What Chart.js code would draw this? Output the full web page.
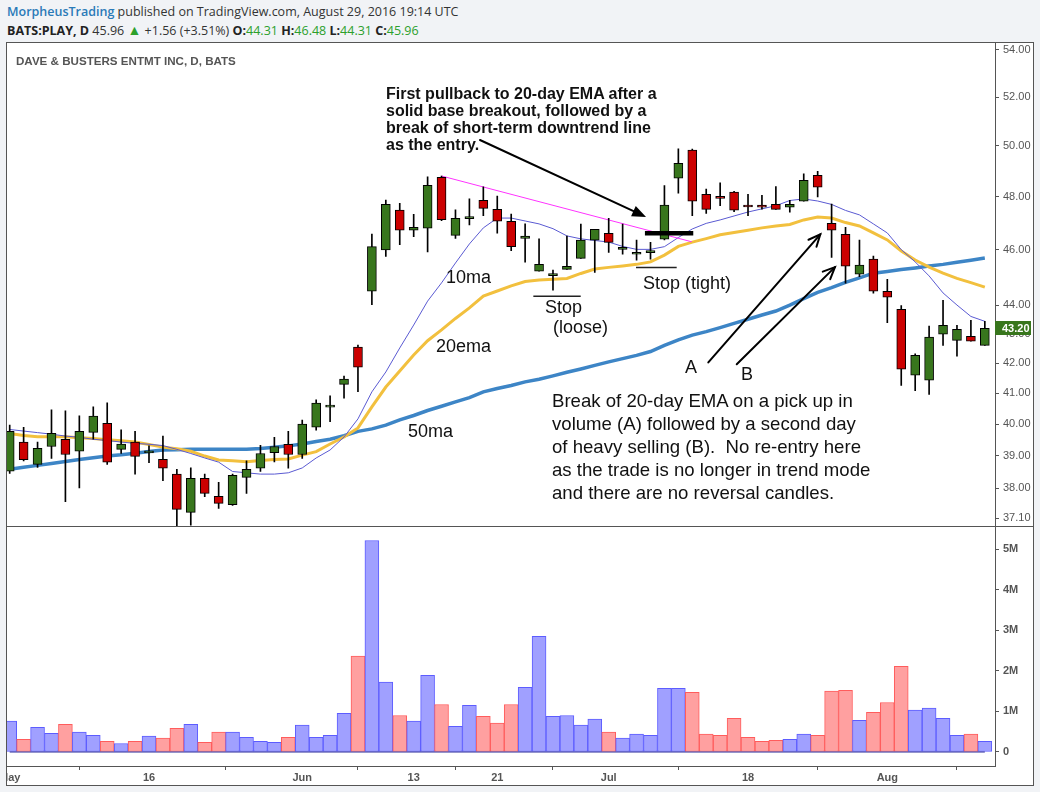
<!DOCTYPE html>
<html><head><meta charset="utf-8">
<script src="https://cdn.jsdelivr.net/npm/chart.js@4.4.0/dist/chart.umd.min.js"></script>
<style>
html,body{margin:0;padding:0;background:#f1f3f6;width:1040px;height:792px;overflow:hidden;}
#hdr{position:absolute;left:7px;top:3px;font-family:"Open Sans",Arial,sans-serif;font-size:12.5px;line-height:18px;color:#333;white-space:nowrap}
#hdr .u{color:#2a7ab8;font-weight:600}
#hdr b{color:#222;font-weight:700}
#hdr .g{color:#2ca02c}
#hdr .tri{color:#2ca02c;font-size:14px}
#frame{position:absolute;left:6px;top:42px;width:1026px;height:742px;border:1px solid #555;background:#fff}
.clip{position:absolute;left:0;width:1026px;overflow:hidden}
.clip canvas{position:absolute;left:-27px;top:0}
#sep{position:absolute;left:0;top:483px;width:1026px;height:1px;background:#555}
#title{position:absolute;left:9px;top:11px;font-family:"Liberation Sans",Arial,sans-serif;font-weight:bold;font-size:11.6px;line-height:14px;color:#555;white-space:nowrap}
.t{position:absolute;font-family:"Liberation Sans",Arial,sans-serif;font-size:18px;line-height:20px;color:#111;white-space:nowrap}
#p1{position:absolute;left:386px;top:85px;font-family:"Liberation Sans",Arial,sans-serif;font-weight:bold;font-size:16px;line-height:17px;color:#111;white-space:nowrap}
#p2{position:absolute;left:552px;top:389px;font-family:"Liberation Sans",Arial,sans-serif;font-size:18.6px;line-height:23px;color:#111;white-space:nowrap}
</style></head>
<body>
<div id="hdr"><span class="u">MorpheusTrading</span> published on TradingView.com, August 29, 2016 19:14 UTC<br>
<b>BATS:PLAY, D</b> 45.96 <span class="tri">&#9650;</span> +1.56 (+3.51%) <b>O:</b><span class="g">44.31</span> <b>H:</b><span class="g">46.48</span> <b>L:</b><span class="g">44.31</span> <b>C:</b><span class="g">45.96</span></div>
<div id="frame">
  <div class="clip" style="top:0;height:483px"><canvas id="pc" width="1053" height="483"></canvas></div>
  <div id="sep"></div>
  <div class="clip" style="top:484px;height:258px"><canvas id="vc" width="1053" height="258"></canvas></div>
  <div id="title">DAVE &amp; BUSTERS ENTMT INC, D, BATS</div>
</div>
<div id="p1">First pullback to 20-day EMA after a<br>solid base breakout, followed by a<br>break of short-term downtrend line<br>as the entry.</div>
<div class="t" style="left:446px;top:267px">10ma</div>
<div class="t" style="left:436px;top:336px">20ema</div>
<div class="t" style="left:408px;top:421px">50ma</div>
<div class="t" style="left:545px;top:297px">Stop</div>
<div class="t" style="left:553px;top:317px">(loose)</div>
<div class="t" style="left:643px;top:273px">Stop (tight)</div>
<div class="t" style="left:685px;top:357px">A</div>
<div class="t" style="left:741px;top:364px">B</div>
<div id="p2">Break of 20-day EMA on a pick up in<br>volume (A) followed by a second day<br>of heavy selling (B).&nbsp; No re-entry here<br>as the trade is no longer in trend mode<br>and there are no reversal candles.</div>
<script>
// ---- data ----
const tickIdx = [0,10,21,29,35,43,53,63];
const tickLabels = ['May','16','Jun','13','21','Jul','18','Aug'];
const opens  = [38.52,39.43,38.73,39.29,39.52,39.14,39.74,40.03,39.20,39.43,39.09,38.89,38.43,37.27,38.30,37.75,37.50,38.33,38.61,39.10,39.36,39.04,39.90,40.55,41.30,42.55,44.50,46.00,47.49,46.73,46.81,48.76,46.54,47.17,47.87,47.52,47.07,46.43,45.22,45.06,45.29,45.69,46.36,46.62,46.02,45.84,45.90,46.40,48.72,49.83,48.10,48.02,48.18,47.62,47.68,47.71,47.60,47.83,48.84,46.99,46.58,45.11,45.66,44.50,43.86,41.60,41.44,42.99,42.78,42.92,42.61];
const highs  = [39.97,39.90,39.43,40.46,40.43,40.27,40.56,40.69,39.82,39.77,39.31,39.62,38.58,38.62,38.43,38.18,38.43,38.84,39.33,39.58,39.77,40.13,40.79,40.92,41.57,42.62,46.59,47.88,47.75,47.33,48.78,48.81,47.50,47.92,48.39,48.03,47.34,46.97,46.41,45.26,46.51,46.96,46.77,47.18,46.96,46.36,46.28,48.44,49.88,49.87,48.30,48.54,48.21,48.10,48.06,48.40,47.87,48.89,48.99,47.72,46.84,46.36,45.77,44.93,43.99,42.32,43.27,44.18,43.30,43.47,43.44];
const lows   = [38.45,38.84,38.64,38.92,37.59,38.01,39.52,38.73,39.07,38.43,38.78,38.23,36.84,36.89,37.74,37.39,37.48,37.84,38.51,38.81,38.61,38.92,39.81,40.08,40.84,41.06,44.02,45.76,46.19,46.49,45.93,47.09,46.43,46.93,47.28,46.62,45.97,45.55,45.22,44.54,45.29,45.69,45.18,45.91,45.84,45.62,45.66,46.37,48.14,47.28,47.37,47.66,47.43,47.28,47.53,47.52,47.41,47.83,48.00,45.72,44.79,45.02,44.43,43.39,41.26,41.09,40.97,42.61,42.24,42.75,42.61];
const closes = [39.77,38.88,39.23,39.71,39.04,39.77,40.26,38.80,39.37,38.98,39.10,38.61,37.36,38.30,37.84,37.54,38.39,38.58,39.07,39.29,39.04,40.00,40.68,40.56,41.47,41.87,46.12,47.71,46.73,46.84,48.45,47.13,47.18,47.18,47.56,47.07,46.12,46.51,45.47,45.07,45.40,46.36,46.77,46.28,46.10,45.91,45.91,47.68,49.31,47.83,47.52,47.94,47.49,47.61,47.60,47.52,47.71,48.64,48.37,46.73,45.40,45.44,44.50,44.29,41.80,42.27,42.89,43.30,43.16,42.75,43.20];
const volumes = [0.76,0.31,0.61,0.46,0.68,0.49,0.41,0.26,0.21,0.26,0.39,0.34,0.58,0.68,0.24,0.49,0.49,0.36,0.26,0.24,0.36,0.66,0.36,0.41,0.95,2.36,5.21,1.72,0.90,0.76,1.89,1.17,0.63,1.15,0.88,0.71,1.17,1.59,2.85,0.88,0.90,0.66,0.81,0.49,0.34,0.44,0.41,1.57,1.57,1.47,0.44,0.41,0.83,0.36,0.26,0.29,0.31,0.44,0.41,1.50,1.52,0.78,0.98,1.22,2.11,1.03,1.08,0.83,0.41,0.44,0.26];
const ma10  = [39.83,39.78,39.73,39.68,39.62,39.58,39.52,39.48,39.43,39.39,39.36,39.32,39.20,39.07,38.93,38.80,38.51,38.47,38.43,38.43,38.47,38.62,38.93,39.18,39.59,40.17,41.05,41.71,42.52,43.31,44.15,44.80,45.52,46.22,46.82,47.19,47.19,47.08,46.97,46.79,46.52,46.41,46.35,46.29,46.13,46.02,46.02,46.12,46.46,46.78,46.99,47.12,47.27,47.42,47.54,47.66,47.86,47.92,47.84,47.71,47.48,47.31,46.97,46.63,46.01,45.56,45.05,44.44,44.01,43.61,43.44];
const ema20 = [39.70,39.64,39.60,39.60,39.60,39.57,39.54,39.50,39.47,39.43,39.35,39.27,39.22,39.14,38.99,38.87,38.84,38.81,38.85,38.88,38.90,39.02,39.13,39.37,39.59,39.88,40.56,41.21,41.74,42.28,42.77,43.14,43.54,43.91,44.33,44.51,44.69,44.85,44.90,44.93,44.96,45.14,45.30,45.36,45.41,45.47,45.56,45.81,46.13,46.29,46.42,46.56,46.65,46.73,46.82,46.89,46.95,47.12,47.23,47.19,47.02,46.89,46.63,46.37,45.96,45.63,45.37,45.15,44.96,44.81,44.65];
const ma50  = [38.58,38.64,38.70,38.76,38.82,38.88,38.94,38.99,39.03,39.08,39.13,39.18,39.19,39.20,39.20,39.20,39.20,39.20,39.23,39.27,39.31,39.37,39.45,39.52,39.63,39.77,39.85,39.97,40.14,40.28,40.44,40.58,40.72,40.86,41.05,41.16,41.26,41.38,41.47,41.58,41.70,41.81,41.93,42.05,42.16,42.27,42.40,42.61,42.80,42.96,43.08,43.22,43.37,43.51,43.66,43.80,44.01,44.24,44.46,44.63,44.82,44.98,45.15,45.21,45.28,45.34,45.41,45.47,45.55,45.62,45.70];
const priceTicks = [54,52,50,48,46,44,43,42,41,40,39,38,37.1];
const volTicks = [0,1,2,3,4,5];
// drawn annotations in (bar index, price) coordinates
const trendLine = [[31.0,48.81],[48.96,46.30]];
const entryLine = [[45.6,46.62],[49.07,46.62]];
const stopLoose = [[37.59,44.32],[40.99,44.32]];
const stopTight = [[44.96,45.36],[47.88,45.36]];
const arrowFrom = [[33.76,50.24],[50.15,42.03],[52.19,41.97]];
const arrowTo   = [[45.68,47.23],[58.19,46.58],[59.24,45.37]];
const arrowFilled = [true,false,false];

// ---- view settings ----
const XMIN=-0.215, XMAX=70.73, PMIN=36.863, PMAX=54.304, VMIN=-0.345, VMAX=5.542;
const GREEN='#38761d', RED='#cc0000';
const AX='#555', FONT='"Liberation Sans", Arial, sans-serif';
const pts = a => a.map(p=>({x:p[0],y:p[1]}));
const up = closes.map((c,i)=>c>=opens[i]);
const fitY = s => { s.width = 38; s.paddingTop = 0; s.paddingBottom = 0; };

const annoPlugin = {
  id:'anno',
  afterDatasetsDraw(chart){
    const {ctx, scales:{x,y}} = chart;
    ctx.save();
    ctx.strokeStyle='#000'; ctx.fillStyle='#000'; ctx.lineWidth=2; ctx.lineCap='round';
    arrowFrom.forEach((f,k)=>{
      const x1=x.getPixelForValue(f[0]), y1=y.getPixelForValue(f[1]);
      const x2=x.getPixelForValue(arrowTo[k][0]), y2=y.getPixelForValue(arrowTo[k][1]);
      const a=Math.atan2(y2-y1,x2-x1);
      if(arrowFilled[k]){
        const L=15, W=0.38;
        ctx.beginPath(); ctx.moveTo(x1,y1); ctx.lineTo(x2-L*0.8*Math.cos(a), y2-L*0.8*Math.sin(a)); ctx.stroke();
        ctx.beginPath(); ctx.moveTo(x2,y2);
        ctx.lineTo(x2-L*Math.cos(a-W), y2-L*Math.sin(a-W));
        ctx.lineTo(x2-L*Math.cos(a+W), y2-L*Math.sin(a+W));
        ctx.closePath(); ctx.fill();
      } else {
        const L=13, W=0.42;
        ctx.beginPath(); ctx.moveTo(x1,y1); ctx.lineTo(x2,y2); ctx.stroke();
        ctx.beginPath();
        ctx.moveTo(x2-L*Math.cos(a-W), y2-L*Math.sin(a-W)); ctx.lineTo(x2,y2);
        ctx.lineTo(x2-L*Math.cos(a+W), y2-L*Math.sin(a+W)); ctx.stroke();
      }
    });
    ctx.restore();
  },
  afterDraw(chart){
    const {ctx, chartArea, scales:{y}} = chart;
    const last = closes[closes.length-1];
    const py = y.getPixelForValue(last);
    ctx.save();
    ctx.fillStyle=GREEN;
    ctx.fillRect(chartArea.right, Math.round(py)-7, 36, 14);
    ctx.fillStyle='#fff'; ctx.font='bold 11px '+FONT; ctx.textBaseline='middle'; ctx.textAlign='left';
    ctx.fillText(last.toFixed(2), chartArea.right+7, py+0.5);
    ctx.restore();
  }
};

const lineDs = (label,data,color,w,order)=>({type:'line',label,data,borderColor:color,borderWidth:w,pointRadius:0,tension:0,fill:false,order});

new Chart(document.getElementById('pc'), {
  type:'bar',
  data:{datasets:[
    lineDs('entry', pts(entryLine), '#000', 4.5, -1),
    {type:'bar',label:'body',data:opens.map((o,i)=>({x:i,y:[o,closes[i]]})),backgroundColor:up.map(u=>u?GREEN:RED),borderColor:'#000',borderWidth:1,borderSkipped:false,barThickness:9,grouped:false,minBarLength:2,order:0},
    {type:'bar',label:'wick',data:lows.map((l,i)=>({x:i,y:[l,highs[i]]})),backgroundColor:'#000',borderWidth:0,barThickness:1,grouped:false,order:1},
    lineDs('trend', pts(trendLine), '#ff33ff', 1, 2),
    lineDs('stopLoose', pts(stopLoose), '#222', 1.5, 2),
    lineDs('stopTight', pts(stopTight), '#222', 1.5, 2),
    lineDs('10ma', ma10.map((v,i)=>({x:i,y:v})), '#5a5ad2', 1, 3),
    lineDs('20ema', ema20.map((v,i)=>({x:i,y:v})), '#f2c03e', 3, 4),
    lineDs('50ma', ma50.map((v,i)=>({x:i,y:v})), '#3d85c6', 3.5, 5)
  ]},
  options:{
    responsive:false, animation:false, events:[],
    layout:{padding:{left:26.7,right:0,top:0,bottom:0}},
    plugins:{legend:{display:false},tooltip:{enabled:false}},
    scales:{
      x:{type:'linear',min:XMIN,max:XMAX,offset:false,display:false},
      y:{type:'logarithmic',position:'right',min:PMIN,max:PMAX,
        afterBuildTicks:s=>{s.ticks=priceTicks.map(v=>({value:v}));},
        afterFit:fitY,
        ticks:{autoSkip:false,padding:4,color:AX,font:{family:FONT,size:11},callback:v=>Number(v).toFixed(2)},
        grid:{drawOnChartArea:false,drawTicks:true,tickLength:4,color:AX},
        border:{display:true,color:AX,width:1}}
    }
  },
  plugins:[annoPlugin]
});

new Chart(document.getElementById('vc'), {
  type:'bar',
  data:{datasets:[
    lineDs('zero', volumes.map((v,i)=>({x:i,y:0})), '#2a2a9a', 1.2, -1),
    {type:'bar',label:'Volume',data:volumes.map((v,i)=>({x:i,y:v})),
     backgroundColor:up.map(u=>u?'#a0a0ff':'#ffa0a0'),borderColor:up.map(u=>u?'#5c5cff':'#ff5c5c'),
     borderWidth:1,borderSkipped:false,barPercentage:1,categoryPercentage:1,order:0}
  ]},
  options:{
    responsive:false, animation:false, events:[],
    layout:{padding:{left:26.7,right:0,top:0,bottom:0}},
    plugins:{legend:{display:false},tooltip:{enabled:false}},
    scales:{
      x:{type:'linear',min:XMIN,max:XMAX,offset:false,
        afterBuildTicks:s=>{s.ticks=tickIdx.map(v=>({value:v}));},
        afterFit:s=>{s.height=19;},
        ticks:{autoSkip:false,maxRotation:0,padding:1,color:AX,font:{family:FONT,size:11,weight:'bold'},callback:v=>tickLabels[tickIdx.indexOf(v)]},
        grid:{drawOnChartArea:false,drawTicks:true,tickLength:4,color:AX},
        border:{display:true,color:AX,width:1}},
      y:{position:'right',min:VMIN,max:VMAX,
        afterBuildTicks:s=>{s.ticks=volTicks.map(v=>({value:v}));},
        afterFit:fitY,
        ticks:{autoSkip:false,padding:4,color:AX,font:{family:FONT,size:11,weight:'bold'},callback:v=>v===0?'0':v+'M'},
        grid:{drawOnChartArea:false,drawTicks:true,tickLength:4,color:AX},
        border:{display:true,color:AX,width:1}}
    }
  }
});
</script>
</body></html>
